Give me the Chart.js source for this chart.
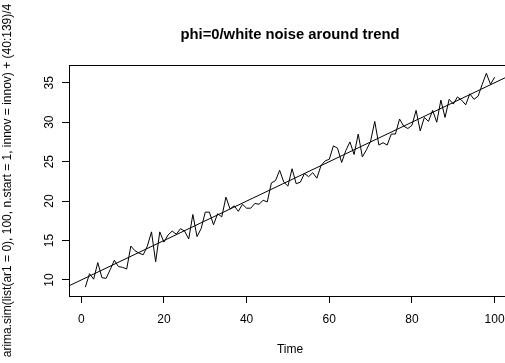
<!DOCTYPE html>
<html>
<head>
<meta charset="utf-8">
<script src="https://cdn.jsdelivr.net/npm/chart.js@4/dist/chart.umd.min.js"></script>
<style>
    html, body { margin: 0; padding: 0; background: #fff; overflow: hidden; }
    #wrap { width: 505px; height: 363px; overflow: hidden; }
</style>
</head>
<body>
<div id="wrap"><canvas id="myChart" width="515" height="363"></canvas></div>
<script>
    // simulated series, one value per time step 1..100
    const times = Array.from({ length: 100 }, (_, i) => i + 1);
    const values = [
        9.1, 10.8, 10.1, 12.2, 10.3, 10.2, 11.3, 12.5, 11.7, 11.6,
        11.4, 14.3, 13.7, 13.4, 13.2, 14.3, 16.1, 12.3, 16.1, 14.8,
        15.7, 16.2, 15.8, 16.5, 16.2, 15.2, 18.3, 15.5, 16.5, 18.6,
        18.6, 17.0, 18.4, 18.0, 20.5, 19.0, 19.4, 18.7, 19.6, 19.1,
        19.1, 19.7, 19.6, 20.1, 19.9, 22.3, 22.6, 23.9, 22.4, 21.9,
        24.1, 22.2, 22.4, 23.5, 23.1, 23.6, 22.9, 24.5, 25.1, 25.3,
        27.0, 26.7, 24.9, 26.4, 27.5, 25.9, 28.5, 25.6, 26.5, 27.6,
        30.1, 27.1, 27.4, 27.1, 28.5, 28.5, 30.4, 29.5, 29.2, 29.6,
        31.5, 28.9, 30.6, 30.1, 31.5, 30.0, 32.8, 30.6, 32.9, 32.3,
        33.2, 32.8, 32.2, 33.6, 32.9, 33.3, 34.8, 36.2, 34.8, 35.7
    ];
    // trend line a + b*t
    const trendIntercept = 10;
    const trendSlope = 0.25;

    const xTicks = [0, 20, 40, 60, 80, 100];
    const yTicks = [10, 15, 20, 25, 30, 35];
    const xRange = [-2.96, 103.96];
    const yRange = [7.97, 37.25];

    const mainTitle = 'phi=0/white noise around trend';
    const xTitle = 'Time';
    const yTitle = 'arima.sim(list(ar1 = 0), 100, n.start = 1, innov = innov) + (40:139)/4';

    const FONT = '"Liberation Sans", Arial, sans-serif';

    // box, tick labels and titles drawn the base-graphics way
    const basePlot = {
        id: 'basePlot',
        afterDraw: function (chart) {
            const ctx = chart.ctx;
            const area = chart.chartArea;
            const xs = chart.scales.x;
            const ys = chart.scales.y;
            ctx.save();
            ctx.strokeStyle = '#000';
            ctx.lineWidth = 1;
            ctx.strokeRect(Math.round(area.left) + 0.5, Math.round(area.top) + 0.5,
                Math.round(area.right - area.left), Math.round(area.bottom - area.top));

            ctx.fillStyle = '#000';
            ctx.font = '12px ' + FONT;
            ctx.textAlign = 'center';
            ctx.textBaseline = 'middle';
            xTicks.forEach(function (v) {
                ctx.fillText(String(v), xs.getPixelForValue(v), area.bottom + 24);
            });
            yTicks.forEach(function (v) {
                ctx.save();
                ctx.translate(area.left - 19, ys.getPixelForValue(v));
                ctx.rotate(-Math.PI / 2);
                ctx.fillText(String(v), 0, 0);
                ctx.restore();
            });

            const midX = (area.left + area.right) / 2;
            const midY = (area.top + area.bottom) / 2;
            ctx.fillText(xTitle, midX, area.bottom + 54);
            ctx.save();
            ctx.translate(8, midY);
            ctx.rotate(-Math.PI / 2);
            ctx.fillText(yTitle, 0, 0);
            ctx.restore();

            ctx.font = 'bold 14.8px ' + FONT;
            ctx.fillText(mainTitle, midX, 35);
            ctx.restore();
        }
    };

    const ctx = document.getElementById('myChart').getContext('2d');
    const myChart = new Chart(ctx, {
        type: 'line',
        data: {
            datasets: [{
                label: 'series',
                data: times.map((t, i) => ({ x: t, y: values[i] })),
                borderColor: '#000',
                borderWidth: 1,
                pointRadius: 0,
                tension: 0,
                fill: false
            }, {
                label: 'trend',
                data: xRange.map(t => ({ x: t, y: trendIntercept + trendSlope * t })),
                borderColor: '#000',
                borderWidth: 1,
                pointRadius: 0,
                fill: false
            }]
        },
        options: {
            responsive: false,
            animation: false,
            layout: { padding: { top: 65, right: 4, left: 0, bottom: 0 } },
            plugins: {
                legend: { display: false },
                tooltip: { enabled: false },
                title: { display: false }
            },
            scales: {
                x: {
                    type: 'linear',
                    min: xRange[0],
                    max: xRange[1],
                    afterBuildTicks: s => { s.ticks = xTicks.map(v => ({ value: v })); },
                    afterFit: s => { s.height = 67; },
                    ticks: { display: false },
                    border: { display: false },
                    grid: { drawOnChartArea: false, drawTicks: true, tickLength: 7, color: '#000', lineWidth: 1 }
                },
                y: {
                    type: 'linear',
                    min: yRange[0],
                    max: yRange[1],
                    afterBuildTicks: s => { s.ticks = yTicks.map(v => ({ value: v })); },
                    afterFit: s => { s.width = 69; },
                    ticks: { display: false },
                    border: { display: false },
                    grid: { drawOnChartArea: false, drawTicks: true, tickLength: 7, color: '#000', lineWidth: 1 }
                }
            }
        },
        plugins: [basePlot]
    });
</script>
</body>
</html>
